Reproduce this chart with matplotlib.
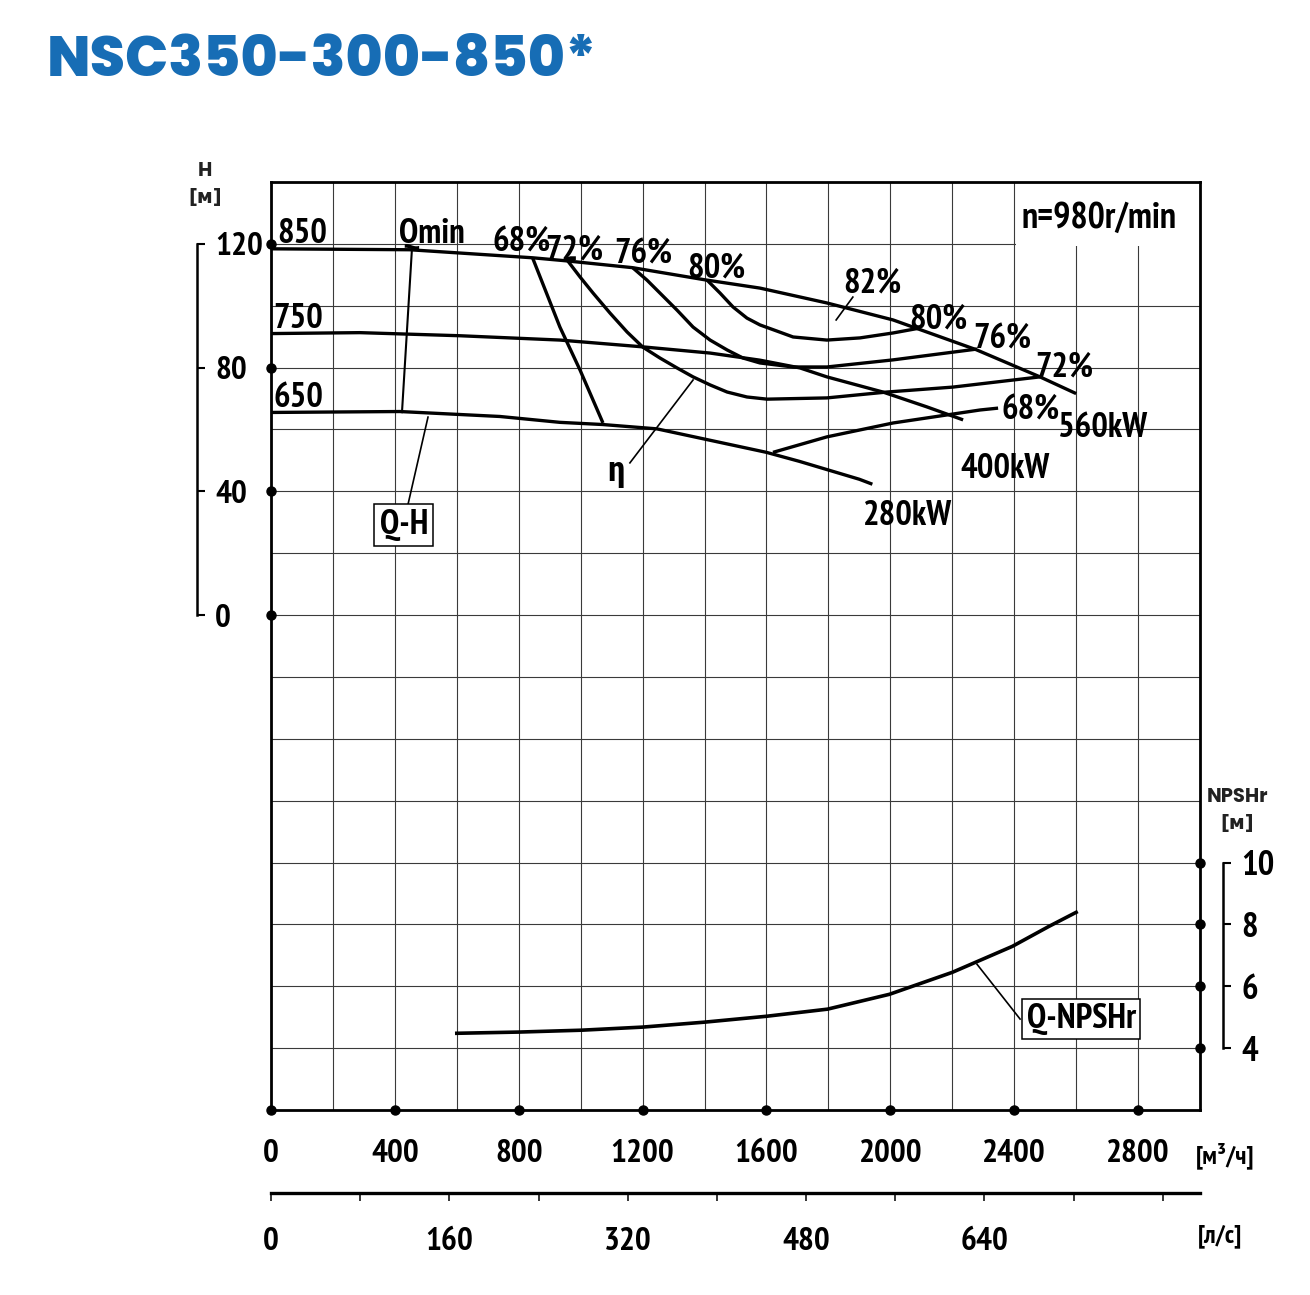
import matplotlib
matplotlib.use('Agg')
import matplotlib.pyplot as plt
import matplotlib.transforms as mtransforms
from matplotlib.patches import Rectangle
import numpy as np
import logging
logging.getLogger('matplotlib.font_manager').setLevel(logging.ERROR)

# ---------------- data ----------------
q_850 = [0, 448, 845, 955, 1168, 1400, 1579, 1795, 2009, 2277, 2481, 2600]
h_850 = [118.4, 118.1, 115.5, 114.5, 112.3, 108.4, 105.7, 100.9, 95.4, 85.8, 77.1, 71.6]

q_750 = [0, 287, 610, 933, 1201, 1418, 1579, 1708, 1795, 1976, 2118, 2235]
h_750 = [91.0, 91.3, 90.3, 88.9, 86.7, 84.7, 82.4, 79.9, 77.0, 72.1, 67.3, 63.1]

q_650 = [0, 416, 739, 933, 1071, 1246, 1600, 1706, 1900, 1942]
h_650 = [65.5, 65.8, 64.2, 62.3, 61.6, 60.2, 52.6, 49.7, 43.9, 42.3]

q_eff68_l = [845, 933, 998, 1072]
h_eff68_l = [115.4, 93.1, 79.2, 62.1]
q_eff72 = [956, 998, 1040, 1095, 1150, 1201, 1256, 1311, 1363, 1418, 1473, 1537, 1602,
           1795, 1989, 2202, 2483]
h_eff72 = [114.8, 109.3, 104.1, 97.6, 91.5, 86.6, 83.1, 79.9, 77.0, 74.4, 72.1, 70.5, 69.8,
           70.2, 72.1, 73.7, 77.0]
q_eff76 = [1169, 1214, 1256, 1311, 1363, 1418, 1473, 1524, 1579, 1686, 1795, 2009, 2280]
h_eff76 = [112.2, 108.3, 104.1, 98.6, 93.1, 88.9, 85.7, 83.1, 81.5, 80.2, 80.2, 82.5, 86.0]
q_eff80 = [1408, 1450, 1492, 1537, 1579, 1634, 1686, 1795, 1902, 2009, 2096]
h_eff80 = [108.3, 104.1, 99.6, 96.0, 93.8, 91.8, 89.9, 88.9, 89.6, 91.2, 92.8]
q_eff68_r = [1621, 1795, 2009, 2290, 2348]
h_eff68_r = [52.6, 57.6, 62.1, 66.3, 66.9]

q_qmin = [455, 423]
h_qmin = [118.1, 65.6]

q_npsh = [600, 803, 1003, 1200, 1400, 1600, 1797, 1997, 2200, 2394, 2513, 2600]
npsh = [4.48, 4.52, 4.58, 4.68, 4.84, 5.03, 5.26, 5.74, 6.45, 7.29, 7.94, 8.39]

q_ticks = [0, 400, 800, 1200, 1600, 2000, 2400, 2800]
h_ticks = [0, 40, 80, 120]
npsh_ticks = [4, 6, 8, 10]
ls_ticks = [0, 80, 160, 240, 320, 400, 480, 560, 640, 720, 800]
ls_labels = [0, 160, 320, 480, 640]

# ---------------- figure ----------------
W, H = 1310, 1295
fig = plt.figure(figsize=(W / 100, H / 100), dpi=100)
fig.patch.set_facecolor('white')


def fx(px):
    return px / W


def fy(py):
    return 1 - py / H


COND = ['PT Sans Narrow', 'Pragati Narrow', 'Archivo Narrow', 'Roboto Condensed', 'DejaVu Sans']
WIDE = ['Poppins', 'DejaVu Sans']

ax = fig.add_axes([fx(271), fy(1110), fx(1200) - fx(271), fy(182) - fy(1110)])
ax.set_xlim(0, 3000)
ax.set_ylim(-160, 140)
ax.set_xticks(q_ticks)
ax.set_xticklabels([str(v) for v in q_ticks], fontfamily=COND, fontweight='bold', fontsize=24)
ax.set_xticks(np.arange(200, 3001, 400), minor=True)
ax.set_yticks(np.arange(-160, 141, 20))
ax.tick_params(which='both', length=0, labelleft=False)
ax.tick_params(axis='x', which='major', pad=21)
ax.set_axisbelow(True)
ax.grid(True, which='both', color='#3a3a3a', lw=0.8)
for s in ax.spines.values():
    s.set_linewidth(2.0)
    s.set_color('black')

# white label field behind the speed text
ax.add_patch(Rectangle((2406, 119.3), 594, 20.7, facecolor='white', edgecolor='none', zorder=1.5))

lw_main = 2.4
for q, h in [(q_850, h_850), (q_750, h_750), (q_650, h_650),
             (q_eff68_l, h_eff68_l), (q_eff72, h_eff72), (q_eff76, h_eff76),
             (q_eff80, h_eff80), (q_eff68_r, h_eff68_r)]:
    ax.plot(q, h, color='black', lw=lw_main, solid_capstyle='butt', solid_joinstyle='round', zorder=3)
ax.plot(q_qmin, h_qmin, color='black', lw=1.5, zorder=3)

# leader lines
ax.plot([507, 442], [64.0, 35.6], color='black', lw=1.2, zorder=3)
ax.plot([1363, 1159], [76.0, 49.2], color='black', lw=1.2, zorder=3)
ax.plot([1879, 1825], [102.8, 95.4], color='black', lw=1.2, zorder=3)

# dots on the axes
ax.plot(q_ticks, [-160] * len(q_ticks), 'o', color='black', ms=6.5, clip_on=False, zorder=6)
ax.plot([0] * len(h_ticks), h_ticks, 'o', color='black', ms=6.5, clip_on=False, zorder=6)

tkw = dict(fontfamily=COND, fontweight='bold', color='black', zorder=5)
fs = 25
ax.text(100, 120.3, '850', ha='center', va='baseline', fontsize=fs, **tkw)
ax.text(87, 92.8, '750', ha='center', va='baseline', fontsize=fs, **tkw)
ax.text(90, 67.3, '650', ha='center', va='baseline', fontsize=fs, **tkw)
ax.text(520, 120.3, 'Qmin', ha='center', va='baseline', fontsize=fs, **tkw)
ax.text(810, 117.4, '68%', ha='center', va='baseline', fontsize=fs, **tkw)
ax.text(978, 114.8, '72%', ha='center', va='baseline', fontsize=fs, **tkw)
ax.text(1201, 113.5, '76%', ha='center', va='baseline', fontsize=fs, **tkw)
ax.text(1437, 109.0, '80%', ha='center', va='baseline', fontsize=fs, **tkw)
ax.text(1941, 104.4, '82%', ha='center', va='baseline', fontsize=fs, **tkw)
ax.text(2154, 92.8, '80%', ha='center', va='baseline', fontsize=fs, **tkw)
ax.text(2361, 86.3, '76%', ha='center', va='baseline', fontsize=fs, **tkw)
ax.text(2561, 77.0, '72%', ha='center', va='baseline', fontsize=fs, **tkw)
ax.text(2452, 63.1, '68%', ha='center', va='baseline', fontsize=fs, **tkw)
ax.text(2685, 57.6, '560kW', ha='center', va='baseline', fontsize=fs, **tkw)
ax.text(2370, 44.3, '400kW', ha='center', va='baseline', fontsize=fs, **tkw)
ax.text(2057, 29.1, '280kW', ha='center', va='baseline', fontsize=fs, **tkw)
ax.text(1114, 43.3, 'η', ha='center', va='baseline', fontsize=fs, **tkw)
ax.text(2674, 125.1, 'n=980r/min', ha='center', va='baseline', fontsize=26, **tkw)
ax.text(429, 29.1, 'Q-H', ha='center', va='center', fontsize=fs,
        bbox=dict(boxstyle='square,pad=0.15', fc='white', ec='black', lw=1.1), **tkw)

# NPSH on twin axis
axn = ax.twinx()
axn.set_ylim(2, 32)
axn.set_axis_off()
axn.plot(q_npsh, npsh, color='black', lw=2.6, zorder=3)
axn.plot([2280, 2419], [6.71, 4.94], color='black', lw=1.2, zorder=3)
axn.plot([3000] * len(npsh_ticks), npsh_ticks, 'o', color='black', ms=6.5, clip_on=False, zorder=6)
axn.text(2616, 4.94, 'Q-NPSHr', ha='center', va='center', fontsize=fs,
         bbox=dict(boxstyle='square,pad=0.12', fc='white', ec='black', lw=1.1), **tkw)

# left H bracket scale
axh = fig.add_axes([fx(197), fy(1110), 1e-4, fy(182) - fy(1110)])
axh.set_ylim(-160, 140)
axh.set_xticks([])
axh.patch.set_visible(False)
for s in ['top', 'right', 'bottom']:
    axh.spines[s].set_visible(False)
axh.spines['left'].set_bounds(0, 120)
axh.spines['left'].set_linewidth(1.8)
axh.set_yticks(h_ticks)
axh.set_yticklabels([str(v) for v in h_ticks], fontfamily=COND, fontweight='bold', fontsize=24)
axh.tick_params(axis='y', direction='in', length=5.5, width=1.5, left=True, right=False,
                labelleft=False, labelright=True, pad=13)

# right NPSH bracket scale
axb = fig.add_axes([fx(1223), fy(1110), 1e-4, fy(182) - fy(1110)])
axb.set_ylim(2, 32)
axb.set_xticks([])
axb.patch.set_visible(False)
for s in ['top', 'right', 'bottom']:
    axb.spines[s].set_visible(False)
axb.spines['left'].set_bounds(4, 10)
axb.spines['left'].set_linewidth(1.8)
axb.set_yticks(npsh_ticks)
axb.set_yticklabels([str(v) for v in npsh_ticks], fontfamily=COND, fontweight='bold', fontsize=25)
axb.tick_params(axis='y', direction='in', length=5.5, width=1.5, left=True, right=False,
                labelleft=False, labelright=True, pad=13)

# l/s scale
axl = fig.add_axes([fx(271), fy(1193), fx(1200) - fx(271), 1e-4])
axl.set_xlim(0, 3000 / 3.6)
axl.set_yticks([])
axl.patch.set_visible(False)
for s in ['top', 'right', 'left']:
    axl.spines[s].set_visible(False)
axl.spines['bottom'].set_linewidth(2.4)
axl.set_xticks(ls_ticks)
axl.tick_params(axis='x', direction='out', length=6, width=1.1, labelbottom=False)
trl = mtransforms.blended_transform_factory(axl.transData, fig.transFigure)
for v in ls_labels:
    axl.text(v, fy(1250), str(v), transform=trl, ha='center', va='baseline',
             fontsize=24, fontfamily=COND, fontweight='bold')

# unit labels
fig.text(fx(1225), fy(1156), '[м³/ч]', ha='center', va='center', fontsize=19,
         fontfamily=COND, fontweight='bold')
fig.text(fx(1220), fy(1236), '[л/с]', ha='center', va='center', fontsize=19,
         fontfamily=COND, fontweight='bold')
fig.text(fx(205), fy(172), 'H', ha='center', va='center', fontsize=14,
         fontfamily=WIDE, fontweight='bold', color='#222222')
fig.text(fx(205), fy(197), '[м]', ha='center', va='center', fontsize=14,
         fontfamily=['DejaVu Sans'], fontweight='bold', color='#222222')
fig.text(fx(1237), fy(797), 'NPSHr', ha='center', va='center', fontsize=14,
         fontfamily=WIDE, fontweight='bold', color='#222222')
fig.text(fx(1237), fy(823), '[м]', ha='center', va='center', fontsize=14,
         fontfamily=['DejaVu Sans'], fontweight='bold', color='#222222')

# title
fig.text(fx(47), fy(62), 'NSC350-300-850*', ha='left', va='center', fontsize=41,
         fontfamily=WIDE, fontweight='heavy', color='#176db5')

fig.savefig('out.png', dpi=100, facecolor='white')
